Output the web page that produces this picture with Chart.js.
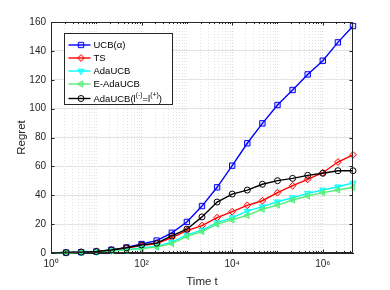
<!DOCTYPE html>
<html><head><meta charset="utf-8">
<script src="https://cdn.jsdelivr.net/npm/chart.js@4.4.0/dist/chart.umd.min.js"></script>
<style>html,body{margin:0;padding:0;background:#fff}#wrap{width:390px;height:290px}</style>
</head><body><div id="wrap"><canvas id="c" width="390" height="290"></canvas></div>
<script>
// time steps (markers every 1/3 decade)
const timeSteps = [1, 2.154, 4.642, 10, 21.54, 46.42, 100, 215.4, 464.2, 1000, 2154, 4642, 10000, 21544, 46416, 100000, 215443, 464159, 1000000, 2154435, 4641589];
const seriesNames = ['UCB(α)', 'TS', 'AdaUCB', 'E-AdaUCB', 'AdaUCB(l⁽⁻⁾=l⁽⁺⁾)'];
const regretUCB   = [0, 0.3, 0.6, 1.0, 2.2, 3.8, 6.2, 8.6, 14, 21.5, 32.5, 45.5, 60.5, 76, 89.8, 102.5, 112.9, 123.7, 133.2, 145.9, 157.2];
const regretTS    = [0, 0.3, 0.6, 1.0, 2.0, 3.5, 5.2, 6.5, 10.6, 15.5, 19, 24.5, 28.6, 33, 36.2, 41.8, 46.6, 51, 55.6, 63, 68];
const regretAda   = [0, 0.2, 0.5, 0.8, 1.6, 2.3, 3.5, 4.8, 7.5, 12.5, 15.9, 21, 24.5, 29, 32.1, 35.5, 38.3, 41.3, 43.6, 45.9, 48.5];
const regretEAda  = [0, 0.2, 0.5, 0.8, 1.5, 2.0, 3.0, 4.2, 6.5, 11.5, 14.8, 20, 23, 26, 30.3, 33.2, 36.7, 39.5, 41.8, 43.6, 45.5];
const regretAdaL  = [0, 0.3, 0.6, 1.0, 2.1, 3.6, 5.6, 6.8, 11.8, 16.5, 25, 35.3, 40.8, 43.6, 47.6, 50.1, 51.7, 53.8, 55.2, 57, 57];
const xTickValues = [1,2,3,4,5,6,7,8,9,10,20,30,40,50,60,70,80,90,100,200,300,400,500,600,700,800,900,1000,2000,3000,4000,5000,6000,7000,8000,9000,10000,20000,30000,40000,50000,60000,70000,80000,90000,100000,200000,300000,400000,500000,600000,700000,800000,900000,1000000,2000000,3000000,4000000];
const xTickLabels = {1:'10⁰', 100:'10²', 10000:'10⁴', 1000000:'10⁶'};
const yTickValues = [0,20,40,60,80,100,120,140,160];

const styles = [
  {color:'#0000ff', bg:'rgba(0,0,255,0.12)', ps:'rect', rot:0, r:3.8},
  {color:'#ff0000', bg:'rgba(255,0,0,0.12)', ps:'rectRot', rot:0, r:3.4},
  {color:'#00ffff', bg:'rgba(0,255,255,0.5)', ps:'triangle', rot:180, r:3.6},
  {color:'#55ee77', bg:'rgba(85,238,119,0.5)', ps:'triangle', rot:-90, r:3.6},
  {color:'#000000', bg:'rgba(0,0,0,0)', ps:'circle', rot:0, r:3}
];
const allSeries = [regretUCB, regretTS, regretAda, regretEAda, regretAdaL];
const drawOrder = [4,3,2,1,0];

const datasets = allSeries.map((vals,i)=>({
  label: seriesNames[i],
  data: vals.map((v,j)=>({x: timeSteps[j], y: v})),
  borderColor: styles[i].color,
  backgroundColor: styles[i].bg,
  borderWidth: 1.4,
  pointStyle: styles[i].ps,
  pointRotation: styles[i].rot,
  pointRadius: vals.map((v,j)=> j===0 ? 0 : styles[i].r),
  pointBorderWidth: 1,
  pointBorderColor: styles[i].color,
  pointBackgroundColor: styles[i].bg,
  tension: 0,
  clip: false,
  order: drawOrder[i]
}));

const FONT = 'Liberation Sans, Arial, Helvetica, sans-serif';

const framePlugin = {
  id:'frame',
  afterDatasetsDraw(chart){
    const {ctx, chartArea:a, scales} = chart;
    ctx.save();
    ctx.strokeStyle = '#262626';
    ctx.lineWidth = 1;
    const L = Math.round(a.left)+0.5, R = Math.round(a.right)-0.5, T = Math.round(a.top)+0.5, B = Math.round(a.bottom)-0.5;
    ctx.strokeRect(L, T, R-L, B-T);
    ctx.beginPath();
    scales.x.ticks.forEach(t=>{
      const px = Math.round(scales.x.getPixelForValue(t.value))+0.5;
      const len = xTickLabels[t.value] ? 3 : 1.5;
      ctx.moveTo(px, B); ctx.lineTo(px, B-len);
      ctx.moveTo(px, T); ctx.lineTo(px, T+len);
    });
    scales.y.ticks.forEach(t=>{
      const py = Math.round(scales.y.getPixelForValue(t.value))+0.5;
      ctx.moveTo(L, py); ctx.lineTo(L+3, py);
      ctx.moveTo(R, py); ctx.lineTo(R-3, py);
    });
    ctx.stroke();
    ctx.restore();
  }
};

function drawLabel(ctx, text, x, y, size){
  const supMap = {'⁽':'(', '⁻':'-', '⁺':'+', '⁾':')'};
  let cx = x;
  let buf = '';
  let sup = false;
  const flush = ()=>{
    if(!buf) return;
    if(sup){
      ctx.font = (size*0.72)+'px '+FONT;
      ctx.fillText(buf, cx, y - size*0.38);
    } else {
      ctx.font = size+'px '+FONT;
      ctx.fillText(buf, cx, y);
    }
    cx += ctx.measureText(buf).width;
    buf = '';
  };
  for(const ch of text){
    const isSup = ch in supMap;
    if(isSup !== sup){ flush(); sup = isSup; }
    buf += isSup ? supMap[ch] : ch;
  }
  flush();
}

const legendPlugin = {
  id:'boxLegend',
  afterDraw(chart){
    const {ctx, chartArea:a} = chart;
    const x0 = Math.round(a.left)+13.5, y0 = Math.round(a.top)+11.5, w = 108, h = 71;
    ctx.save();
    ctx.fillStyle = '#fff';
    ctx.fillRect(x0, y0, w, h);
    ctx.strokeStyle = '#262626';
    ctx.lineWidth = 1;
    ctx.strokeRect(x0, y0, w, h);
    chart.data.datasets.forEach((ds,i)=>{
      const cy = y0 + 11.5 + i*13 + (i===4 ? 1.5 : 0);
      ctx.strokeStyle = ds.borderColor;
      ctx.lineWidth = ds.borderWidth;
      ctx.beginPath(); ctx.moveTo(x0+4, cy); ctx.lineTo(x0+26, cy); ctx.stroke();
      ctx.lineWidth = 1;
      ctx.fillStyle = ds.pointBackgroundColor;
      Chart.helpers.drawPoint(ctx, {pointStyle: ds.pointStyle, rotation: ds.pointRotation, radius: styles[i].r, borderWidth: 1}, x0+16.5, cy);
      ctx.fillStyle = '#000';
      ctx.textBaseline = 'middle';
      ctx.textAlign = 'left';
      drawLabel(ctx, ds.label, x0+29, cy+0.5, 9.5);
    });
    ctx.restore();
  }
};

new Chart(document.getElementById('c'), {
  type:'line',
  data:{datasets},
  options:{
    responsive:false, animation:false, devicePixelRatio:1,
    layout:{padding:{top:22, right:37, left:0, bottom:0}},
    plugins:{legend:{display:false}, tooltip:{enabled:false}},
    scales:{
      x:{
        type:'logarithmic', min:1, max:4641589,
        afterBuildTicks(s){ s.ticks = xTickValues.map(v=>({value:v})); },
        afterFit(s){ s.height = 37; },
        ticks:{autoSkip:false, maxRotation:0, minRotation:0, padding:5, color:'#262626',
          font:{family:FONT, size:10},
          callback(v){ return xTickLabels[v] || ''; }},
        grid:{drawTicks:false, color:(c)=> (c.tick && xTickLabels[c.tick.value]) ? '#d8d8d8' : '#e2e2e2', lineWidth:1},
        border:{display:true, color:'#262626', dash:[1,2]},
        title:{display:true, text:'Time t', color:'#262626', font:{family:FONT, size:11.5}, padding:{top:0, bottom:1}}
      },
      y:{
        type:'linear', min:0, max:160,
        afterBuildTicks(s){ s.ticks = yTickValues.map(v=>({value:v})); },
        afterFit(s){ s.width = 51; },
        ticks:{padding:5, color:'#262626', font:{family:FONT, size:10}},
        grid:{drawTicks:false, color:'#e3e3e3', lineWidth:1},
        border:{display:true, color:'#262626'},
        title:{display:true, text:'Regret', color:'#262626', font:{family:FONT, size:11.5}, padding:{top:15, bottom:0}}
      }
    }
  },
  plugins:[framePlugin, legendPlugin]
});
</script>
</body></html>
